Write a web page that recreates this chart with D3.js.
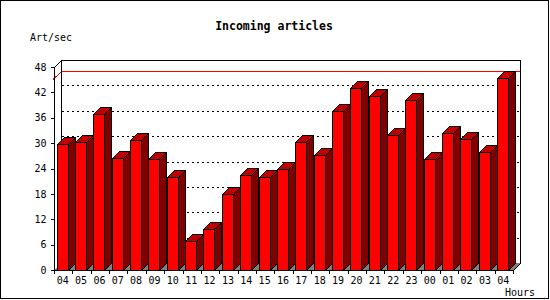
<!DOCTYPE html>
<html><head><meta charset="utf-8">
<script src="https://cdn.jsdelivr.net/npm/d3@7"></script>
<style>
html,body{margin:0;padding:0;background:#fff;}
svg{display:block;}
text{font-family:"DejaVu Sans Mono",monospace;fill:#000;}
</style></head>
<body>
<script>
const hours = ["04","05","06","07","08","09","10","11","12","13","14","15","16","17","18","19","20","21","22","23","00","01","02","03","04"];
const artPerSec = [29.7,30.2,37.0,26.6,30.7,26.2,21.9,6.9,9.6,17.9,22.4,22.1,24.0,30.3,27.3,37.6,43.0,41.1,31.9,40.2,26.2,32.5,30.9,27.8,45.5];
const yTicks = [0,6,12,18,24,30,36,42,48];
const title = "Incoming articles";
const yLabel = "Art/sec";
const xLabel = "Hours";

const W = 550, H = 300;
const D = 7; // 3D depth
const svg = d3.select("body").append("svg").attr("width", W).attr("height", H)
  .attr("shape-rendering","crispEdges");

svg.append("rect").attr("x",0.5).attr("y",0.5).attr("width",W-2).attr("height",H-2)
  .attr("fill","#fff").attr("stroke","#000");

const idx = hours.map((h,i)=>i);
const x = d3.scaleBand().domain(idx).range([54,513]).paddingInner(0).paddingOuter(0);
const y = d3.scaleLinear().domain([0,48]).range([270,67]);
const bw = x.bandwidth();
const x0 = x.range()[0], x1 = x.range()[1];
const yb = y(0);

// back wall outline
const g = svg.append("g");
g.append("path").attr("d",`M${x0+D+0.5},${yb-D}V${y(48)-D+0.5}H${x1+D+0.5}V${yb-D}`)
  .attr("fill","none").attr("stroke","#000");

// gridlines (dotted) on back wall and diagonals
yTicks.filter(t=>t>0 && t<48).forEach(t=>{
  const yy = Math.round(y(t)) - D + 0.5;
  g.append("line").attr("x1",x0+D+1).attr("x2",x1+D).attr("y1",yy).attr("y2",yy)
    .attr("stroke","#000").attr("stroke-dasharray","2,3");
  g.append("line").attr("x1",x0+0.5).attr("y1",Math.round(y(t))+0.5).attr("x2",x0+D+0.5).attr("y2",yy)
    .attr("stroke","#000").attr("stroke-dasharray","1,2");
});
// top-left diagonal
g.append("line").attr("x1",x0+0.5).attr("y1",y(48)+0.5).attr("x2",x0+D+0.5).attr("y2",y(48)-D+0.5)
  .attr("stroke","#000");

// max line (red)
const mx = d3.max(artPerSec);
const ym = Math.round(y(mx)) + 0.5;
g.append("line").attr("x1",x0+D+1).attr("x2",x1+D).attr("y1",ym-D).attr("y2",ym-D).attr("stroke","#f00");
g.append("line").attr("x1",x0-1).attr("y1",ym+1).attr("x2",x0+D+0.5).attr("y2",ym-D).attr("stroke","#f00");

// floor
g.append("path").attr("d",`M${x0},${yb}H${x1}L${x1+D},${yb-D}H${x0+D}Z`).attr("fill","#808080");
g.append("line").attr("x1",x1+0.5).attr("y1",yb+0.5).attr("x2",x1+D+0.5).attr("y2",yb-D+0.5).attr("stroke","#000");

// bars
const bars = svg.append("g");
idx.forEach(i=>{
  const fx = Math.round(x(i) + bw*0.14) + 0.5;
  const fw = Math.round(bw*0.6);
  const ty = Math.round(y(artPerSec[i])) + 0.5;
  const by = yb + 0.5;
  const gb = bars.append("g").attr("stroke","#000").attr("stroke-linejoin","miter");
  gb.append("path").attr("d",`M${fx+fw},${by}L${fx+fw+D},${by-D}V${ty-D}L${fx+fw},${ty}Z`).attr("fill","#800000");
  gb.append("path").attr("d",`M${fx},${ty}L${fx+D},${ty-D}H${fx+fw+D}L${fx+fw},${ty}Z`).attr("fill","#c00000");
  gb.append("rect").attr("x",fx).attr("y",ty).attr("width",fw).attr("height",by-ty).attr("fill","#ff0000");
});

// front axes
svg.append("line").attr("x1",x0+0.5).attr("x2",x0+0.5).attr("y1",y(48)).attr("y2",yb+1).attr("stroke","#000");
svg.append("line").attr("x1",x0).attr("x2",x1+1).attr("y1",yb+0.5).attr("y2",yb+0.5).attr("stroke","#000");

const yAxis = d3.axisLeft(y).tickValues(yTicks).tickSize(4).tickPadding(4).tickFormat(d3.format("d"));
const ya = svg.append("g").attr("transform",`translate(${x0+0.5},0)`).call(yAxis);
ya.select(".domain").remove();
ya.selectAll("text").attr("font-size","10px").attr("font-family","DejaVu Sans Mono").attr("fill","#000");
ya.selectAll(".tick line").attr("stroke","#000");

// x ticks at band boundaries
const bounds = idx.map(i=>x(i)).concat([x1]);
svg.append("g").selectAll("line").data(bounds).join("line")
  .attr("x1",d=>Math.round(d)+0.5).attr("x2",d=>Math.round(d)+0.5)
  .attr("y1",yb).attr("y2",yb+4).attr("stroke","#000");
svg.append("g").selectAll("text").data(idx).join("text")
  .attr("x",i=>x(i)+bw/2-0.5).attr("y",284).attr("text-anchor","middle")
  .attr("font-size","10px").attr("shape-rendering","auto").text(i=>hours[i]);

svg.append("text").attr("x",274).attr("y",30).attr("text-anchor","middle")
  .attr("font-size","11.5px").attr("font-weight","bold").text(title);
svg.append("text").attr("x",30).attr("y",41).attr("font-size","10px").text(yLabel);
svg.append("text").attr("x",505).attr("y",296).attr("font-size","10px").text(xLabel);
</script>
</body></html>
